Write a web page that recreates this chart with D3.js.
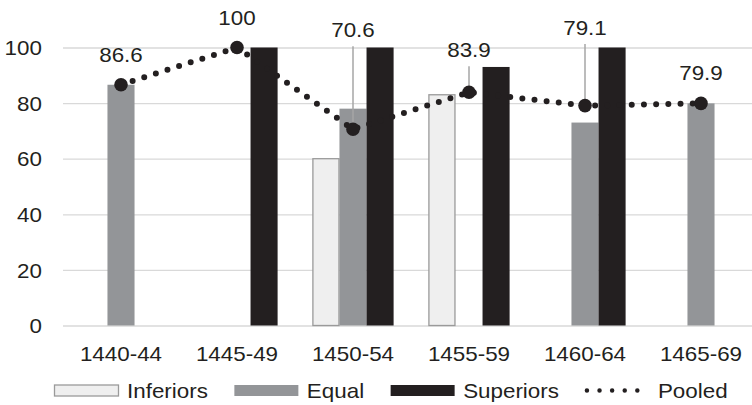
<!DOCTYPE html>
<html>
<head>
<meta charset="utf-8">
<script src="https://cdn.jsdelivr.net/npm/d3@7"></script>
<style>
  body { margin: 0; background: #fff; }
  text { font-family: "Liberation Sans", Arial, sans-serif; fill: #231f20; }
</style>
</head>
<body>
<svg id="chart" width="752" height="405"></svg>
<script>
// Share of cases by status of the counterpart, per five-year period
const periods   = ["1440-44", "1445-49", "1450-54", "1455-59", "1460-64", "1465-69"];
const inferiors = [null, null, 60, 83, null, null];
const equal     = [86.6, null, 78, null, 73, 79.9];
const superiors = [null, 100, 100, 93, 100, null];
const pooled    = [86.6, 100, 70.6, 83.9, 79.1, 79.9];
const yTicks    = [0, 20, 40, 60, 80, 100];
const seriesNames = ["Inferiors", "Equal", "Superiors"];

const svg = d3.select("#chart");
const FONT = 20, STRETCH = 1.12;
const ink = "#231f20";
const colors = {
  Inferiors: { fill: "#efefef", stroke: "#9a9a9a" },
  Equal: { fill: "#939598", stroke: "none" },
  Superiors: { fill: ink, stroke: "none" }
};

const x = d3.scaleBand().domain(periods).range([63, 759]).paddingInner(0.3).paddingOuter(0.15);
const xs = d3.scaleBand().domain(seriesNames).range([0, x.bandwidth()]);
const y = d3.scaleLinear().domain([0, 100]).range([325.5, 47.5]);

// gridlines + y tick labels
const yAxis = svg.append("g")
  .attr("transform", "translate(63,0)")
  .call(d3.axisLeft(y).tickValues(yTicks).tickSize(-696).tickPadding(0));
yAxis.select(".domain").remove();
yAxis.selectAll(".tick line").attr("stroke", "#d9d9d9").attr("stroke-width", 1.3);
yAxis.selectAll(".tick text")
  .attr("x", -18.8).attr("dy", "0.36em")
  .attr("transform", `scale(${STRETCH},1)`)
  .style("font-size", FONT + "px").style("font-family", null).attr("fill", ink);

// x axis labels
const xAxis = svg.append("g")
  .attr("transform", "translate(0,325.5)")
  .call(d3.axisBottom(x).tickSize(0).tickPadding(21));
xAxis.select(".domain").remove();
xAxis.selectAll(".tick text")
  .attr("transform", `scale(${STRETCH},1)`)
  .style("font-size", FONT + "px").style("font-family", null).attr("fill", ink);

// bars
const seriesData = { Inferiors: inferiors, Equal: equal, Superiors: superiors };
seriesNames.forEach(name => {
  const vals = seriesData[name];
  svg.append("g").selectAll("rect")
    .data(periods.map((p, i) => ({ p, v: vals[i] })).filter(d => d.v != null))
    .join("rect")
    .attr("x", d => x(d.p) + xs(name) + (name === "Inferiors" ? 0.5 : 0))
    .attr("width", xs.bandwidth() - (name === "Inferiors" ? 1 : 0))
    .attr("y", d => y(d.v))
    .attr("height", d => y(0) - y(d.v))
    .attr("fill", colors[name].fill)
    .attr("stroke", colors[name].stroke)
    .attr("stroke-width", 1.3);
});

// pooled line
const pts = periods.map((p, i) => ({ p, v: pooled[i] }));
const cx = d => x(d.p) + x.bandwidth() / 2;
svg.append("path")
  .datum(pts)
  .attr("d", d3.line().x(cx).y(d => y(d.v)))
  .attr("fill", "none").attr("stroke", ink)
  .attr("stroke-width", 6).attr("stroke-linecap", "round")
  .attr("stroke-dasharray", "0 12.2");

// data labels: some are lifted clear of the bars with a leader line
const labelLift = { "1450-54": 92, "1455-59": 35, "1460-64": 70.6 };
const labels = svg.append("g");
pts.forEach(d => {
  const px = cx(d), py = y(d.v);
  const lift = labelLift[d.p];
  const base = lift ? py - lift : py - 23;
  if (lift) {
    labels.append("line")
      .attr("x1", px).attr("x2", px)
      .attr("y1", base + 9).attr("y2", py)
      .attr("stroke", "#a6a6a6").attr("stroke-width", 1.5);
  }
  labels.append("text")
    .attr("transform", `translate(${px},${base}) scale(${STRETCH},1)`)
    .attr("text-anchor", "middle")
    .style("font-size", FONT + "px")
    .text(d3.format(".1f")(d.v).replace(/\.0$/, ""));
});

svg.append("g").selectAll("circle")
  .data(pts).join("circle")
  .attr("cx", cx).attr("cy", d => y(d.v))
  .attr("r", 6.8).attr("fill", ink);

// legend
const legend = svg.append("g");
let lx = 54;
const ly = 390.5;
[...seriesNames, "Pooled"].forEach(name => {
  if (name === "Pooled") {
    legend.append("line")
      .attr("x1", lx + 2).attr("x2", lx + 65).attr("y1", ly).attr("y2", ly)
      .attr("stroke", ink).attr("stroke-width", 4.5).attr("stroke-linecap", "round")
      .attr("stroke-dasharray", "0 12.6");
  } else {
    legend.append("rect")
      .attr("x", lx + 0.5).attr("y", ly - 5.5).attr("width", 64).attr("height", 11)
      .attr("fill", colors[name].fill).attr("stroke", colors[name].stroke).attr("stroke-width", 1.3);
  }
  const t = legend.append("text")
    .attr("transform", `translate(${lx + 73},${ly + 7.5}) scale(${STRETCH},1)`)
    .style("font-size", FONT + "px")
    .text(name);
  lx += 73 + t.node().getComputedTextLength() * STRETCH + 26;
});
</script>
</body>
</html>
